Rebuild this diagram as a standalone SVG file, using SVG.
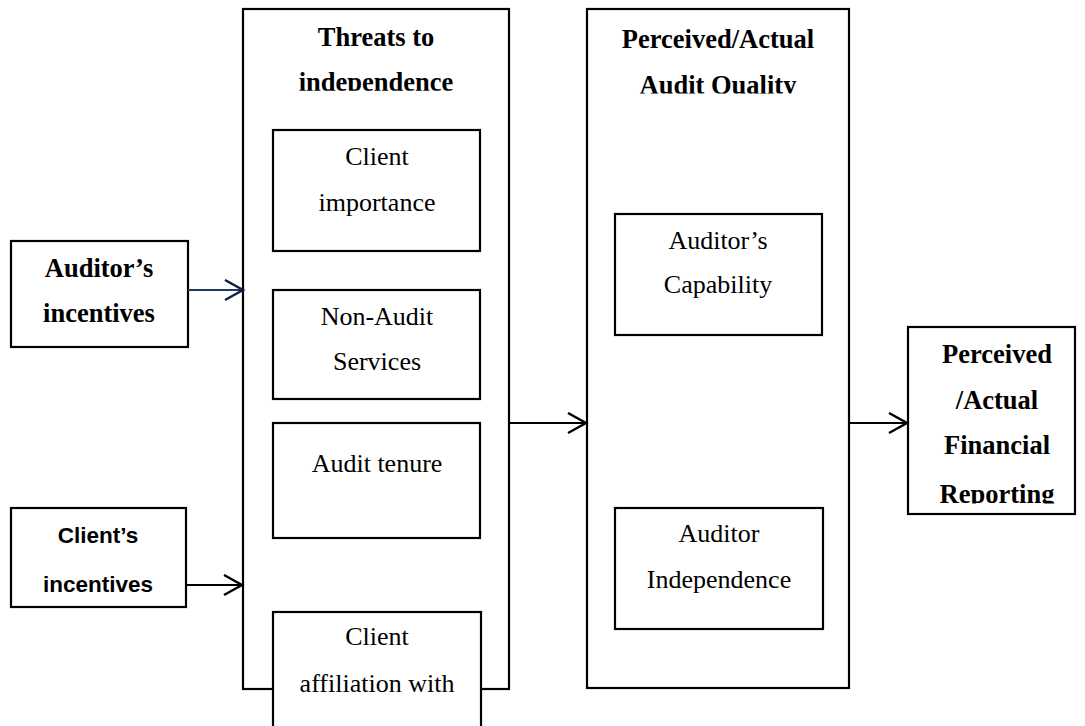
<svg xmlns="http://www.w3.org/2000/svg" width="1085" height="726" viewBox="0 0 1085 726">
<style>
  .box { fill: #ffffff; stroke: #000000; stroke-width: 2.2; }
  .t { font-family: "Liberation Serif", "Times New Roman", serif; font-size: 26px; fill: #000; text-anchor: middle; }
  .b { font-weight: bold; font-size: 26.5px; }
  .s { font-family: "Liberation Sans", Arial, sans-serif; font-weight: bold; font-size: 22.5px; fill: #000; text-anchor: middle; }
  .conn { fill: none; stroke: #000; stroke-width: 2; }
</style>
<defs>
  <marker id="arr" markerUnits="userSpaceOnUse" markerWidth="22" markerHeight="24" refX="19" refY="11" orient="auto">
    <path d="M1,1 L19,11 L1,21" fill="none" stroke="#000" stroke-width="2.4"/>
  </marker>
  <marker id="arrNavy" markerUnits="userSpaceOnUse" markerWidth="22" markerHeight="24" refX="19" refY="11" orient="auto">
    <path d="M1,1 L19,11 L1,21" fill="none" stroke="#0f1f38" stroke-width="2.4"/>
  </marker>
  <clipPath id="clipThreats"><rect x="240" y="0" width="272" height="90.7"/></clipPath>
  <clipPath id="clipQuality"><rect x="585" y="0" width="266" height="93.5"/></clipPath>
  <clipPath id="clipReporting"><rect x="905" y="320" width="175" height="183.5"/></clipPath>
</defs>
<rect width="1085" height="726" fill="#ffffff"/>

<g id="threats">
  <rect class="box" x="243" y="9" width="266" height="680"/>
  <g clip-path="url(#clipThreats)">
    <text class="t b" x="376" y="45.7">Threats to</text>
    <text class="t b" x="376" y="91.2">independence</text>
  </g>
</g>

<g id="client-importance">
  <rect class="box" x="273" y="130" width="207" height="121"/>
  <text class="t" x="377" y="165">Client</text>
  <text class="t" x="377" y="211">importance</text>
</g>

<g id="non-audit">
  <rect class="box" x="273" y="290" width="207" height="109"/>
  <text class="t" x="377" y="325">Non-Audit</text>
  <text class="t" x="377" y="370">Services</text>
</g>

<g id="audit-tenure">
  <rect class="box" x="273" y="423" width="207" height="115"/>
  <text class="t" x="377" y="472">Audit tenure</text>
</g>

<g id="client-affiliation">
  <rect class="box" x="273" y="612" width="208" height="130"/>
  <text class="t" x="377" y="645">Client</text>
  <text class="t" x="377" y="692">affiliation with</text>
</g>

<g id="audit-quality">
  <rect class="box" x="587" y="9" width="262" height="679"/>
  <g clip-path="url(#clipQuality)">
    <text class="t b" x="718" y="48">Perceived/Actual</text>
    <text class="t b" x="718" y="93.5">Audit Quality</text>
  </g>
</g>

<g id="capability">
  <rect class="box" x="615" y="214" width="207" height="121"/>
  <text class="t" x="718" y="249">Auditor’s</text>
  <text class="t" x="718" y="293">Capability</text>
</g>

<g id="independence">
  <rect class="box" x="615" y="508" width="208" height="121"/>
  <text class="t" x="719" y="542">Auditor</text>
  <text class="t" x="719" y="588">Independence</text>
</g>

<g id="auditor-incentives">
  <rect class="box" x="11" y="241" width="177" height="106"/>
  <text class="t b" x="99" y="277">Auditor’s</text>
  <text class="t b" x="99" y="322">incentives</text>
</g>

<g id="client-incentives">
  <rect class="box" x="11" y="508" width="175" height="99"/>
  <text class="s" x="98" y="543">Client’s</text>
  <text class="s" x="98" y="592">incentives</text>
</g>

<g id="financial-reporting">
  <rect class="box" x="908" y="327" width="167" height="187"/>
  <g clip-path="url(#clipReporting)">
    <text class="t b" x="997" y="363">Perceived</text>
    <text class="t b" x="997" y="408.5">/Actual</text>
    <text class="t b" x="997" y="453.5">Financial</text>
    <text class="t b" x="997" y="502.5">Reporting</text>
  </g>
</g>

<g id="connectors">
  <line x1="188" y1="290" x2="243" y2="290" stroke="#1f3a60" stroke-width="2" marker-end="url(#arrNavy)"/>
  <line class="conn" x1="186" y1="585" x2="242" y2="585" marker-end="url(#arr)"/>
  <line class="conn" x1="509" y1="423" x2="586" y2="423" marker-end="url(#arr)"/>
  <line class="conn" x1="849" y1="423" x2="907" y2="423" marker-end="url(#arr)"/>
</g>
</svg>
